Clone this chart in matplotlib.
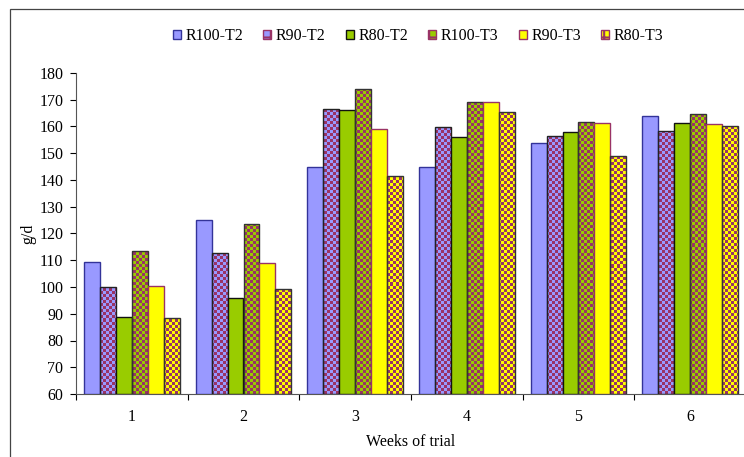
import numpy as np
import matplotlib
matplotlib.use('Agg')
import matplotlib.pyplot as plt
from matplotlib.colors import ListedColormap
from matplotlib.patches import Patch, Rectangle

plt.rcParams['font.family'] = ['Liberation Serif', 'DejaVu Serif']

weeks = ['1', '2', '3', '4', '5', '6']
series = ['R100-T2', 'R90-T2', 'R80-T2', 'R100-T3', 'R90-T3', 'R80-T3']
r100_t2 = [109.4, 124.9, 144.8, 145.0, 153.9, 163.9]
r90_t2 = [100.1, 112.6, 166.5, 159.8, 156.4, 158.3]
r80_t2 = [88.9, 95.9, 166.2, 156.2, 157.9, 161.2]
r100_t3 = [113.5, 123.5, 174.0, 169.2, 161.7, 164.7]
r90_t3 = [100.5, 109.0, 159.0, 169.2, 161.3, 160.8]
r80_t3 = [88.4, 99.2, 141.5, 165.4, 149.0, 160.2]
values = [r100_t2, r90_t2, r80_t2, r100_t3, r90_t3, r80_t3]

# (face, checker colour or None, edge)
styles = [
    ('#9999FF', None, '#333399'),
    ('#9999FF', '#993366', '#222222'),
    ('#99CC00', None, '#111111'),
    ('#99CC00', '#993366', '#333333'),
    ('#FFFF00', None, '#993366'),
    ('#FFFF00', '#993366', '#333333'),
]

fig = plt.figure(figsize=(7.44, 4.57), dpi=100)
ax = fig.add_axes([76 / 744, 63 / 457, 670 / 744, 321 / 457])

x = np.arange(1, len(weeks) + 1)
bw = 16 / 112
ymin, ymax = 60, 180

# checkerboard texture, roughly 3 px cells
ny, nx = 107, 224
checker = np.add.outer(np.arange(ny), np.arange(nx)) % 2

for i, (vals, (face, check, edge)) in enumerate(zip(values, styles)):
    pos = x + (i - 2.5) * bw
    heights = np.array(vals) - ymin
    if check is None:
        ax.bar(pos, heights, bw, bottom=ymin, color=face, edgecolor=edge,
               linewidth=1.0, zorder=3)
    else:
        bars = ax.bar(pos, heights, bw, bottom=ymin, facecolor='none',
                      edgecolor=edge, linewidth=1.0, zorder=3)
        cmap = ListedColormap([face, check])
        for b in bars:
            im = ax.imshow(checker, cmap=cmap, extent=(0.5, 6.5, ymin, ymax),
                           aspect='auto', interpolation='nearest', zorder=2)
            im.set_clip_path(b)

ax.set_xlim(0.5, 6.5)
ax.set_ylim(ymin, ymax)
ax.set_yticks(np.arange(60, 181, 10))
ax.set_xticks(x)
ax.set_xticklabels(weeks)
ax.set_xticks(np.arange(0.5, 6.6, 1), minor=True)
ax.tick_params(axis='x', which='major', length=0, pad=11, labelsize=11.5)
ax.tick_params(axis='x', which='minor', length=4, width=0.8, direction='out')
ax.tick_params(axis='y', length=4, width=0.8, pad=5, labelsize=11.5)
for s in ['top', 'right']:
    ax.spines[s].set_visible(False)
ax.spines['left'].set_color('#555555')
ax.spines['bottom'].set_color('#555555')

ax.set_ylabel('g/d', fontsize=11.5, labelpad=2)
ax.set_xlabel('Weeks of trial', fontsize=11.5, labelpad=6)

plt.rcParams['hatch.linewidth'] = 1.5
handles = []
for face, check, edge in styles:
    if check is None:
        handles.append(Patch(facecolor=face, edgecolor=edge, linewidth=1.0))
    else:
        handles.append(Patch(facecolor=face, edgecolor=check, hatch='++',
                             linewidth=1.0))
fig.legend(handles, series, loc='center', bbox_to_anchor=(418 / 744, 1 - 36 / 457),
           ncol=6, frameon=False, fontsize=11.5, handlelength=0.5, handleheight=0.5,
           handletextpad=0.3, columnspacing=1.25)

fig.patches.append(Rectangle((10 / 744, -0.1), 1.2, 1.1 - 9 / 457, transform=fig.transFigure,
                             fill=False, edgecolor='#444444', linewidth=0.9))

fig.savefig('out.png', dpi=100)
